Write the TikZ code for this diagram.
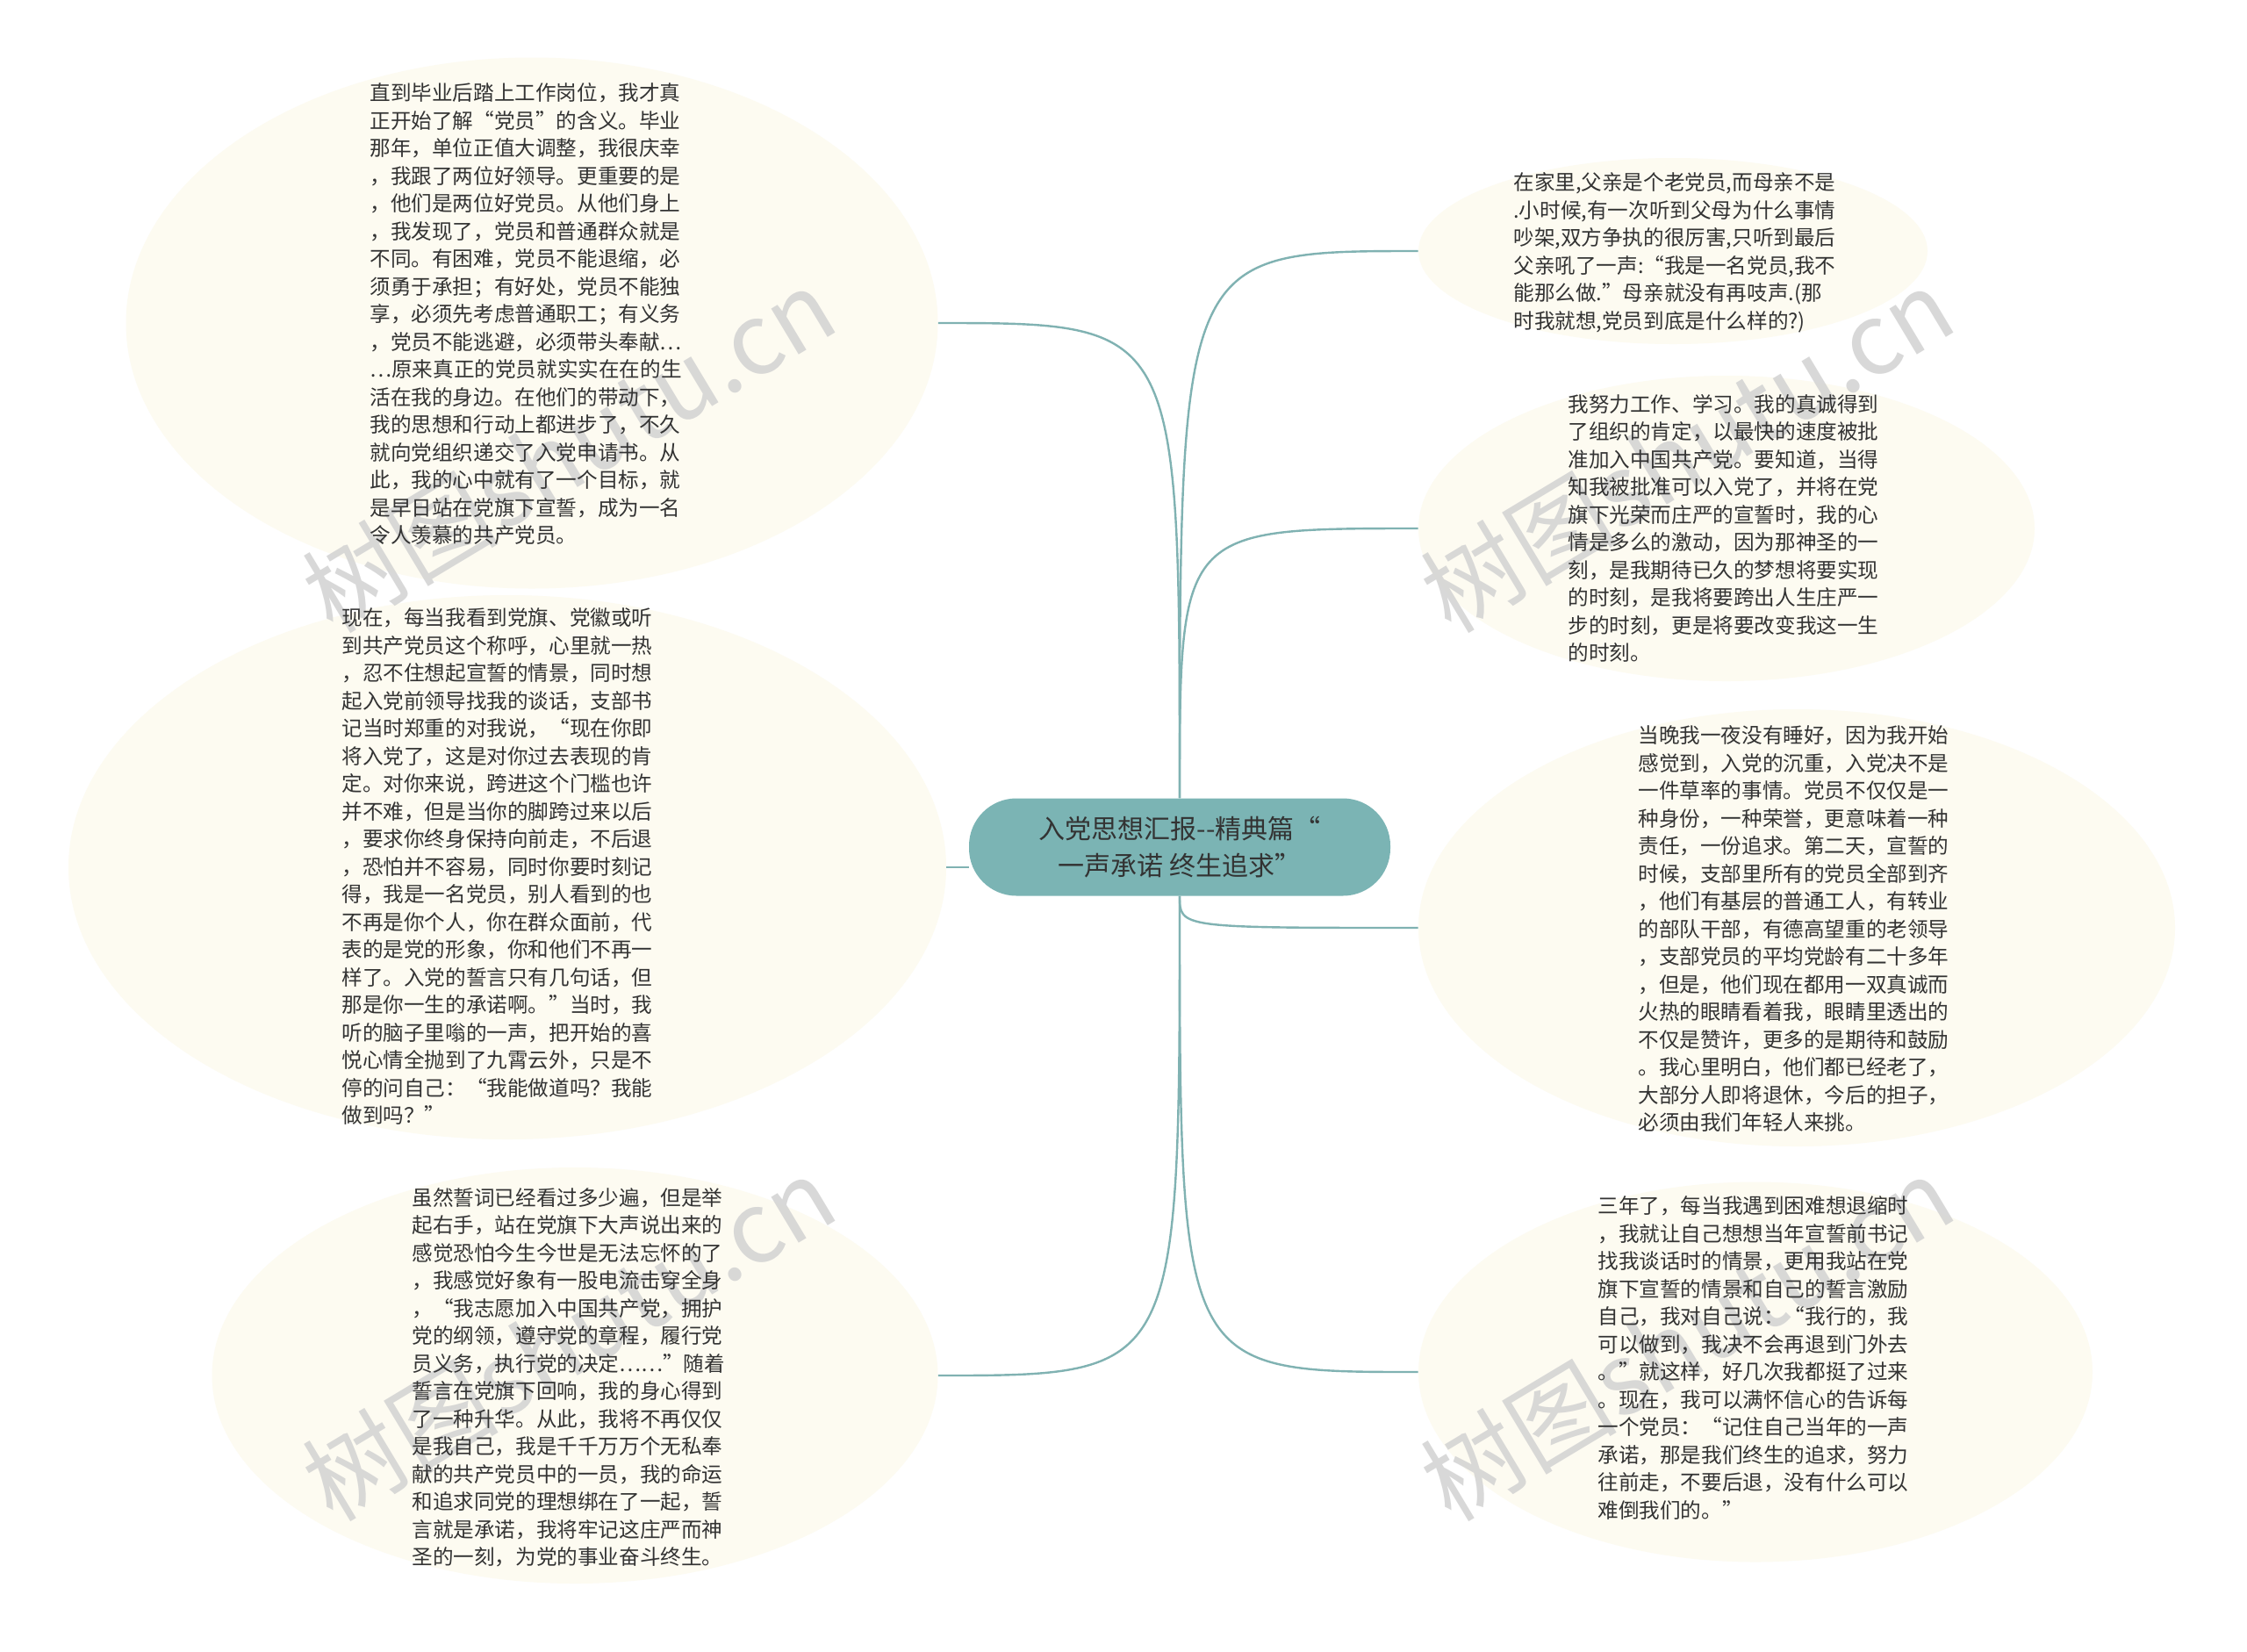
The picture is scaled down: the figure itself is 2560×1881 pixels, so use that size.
\documentclass[tikz,border=0pt]{standalone}
\usepackage{fontspec}
\setmainfont{Noto Sans CJK SC}
\usetikzlibrary{shapes.geometric}
\definecolor{cream}{HTML}{FDFBF1}
\definecolor{linecol}{HTML}{80B2B2}
\definecolor{centerfill}{HTML}{7BB4B4}
\definecolor{textcol}{HTML}{333333}
\definecolor{wmcol}{HTML}{D2D2D2}
\begin{document}
\begin{tikzpicture}[x=0.5pt,y=-0.5pt,
 bub/.style={ellipse, fill=cream, inner sep=0pt},
 body/.style={align=left, anchor=west, inner sep=0pt, text=textcol, font=\fontsize{11.8pt}{15.75pt}\selectfont},
 link/.style={draw=linecol, line width=1.2pt},
 wm/.style={text=wmcol, font=\fontsize{56pt}{60pt}\selectfont, rotate=31, opacity=0.85},
 hub/.style={fill=centerfill, rounded corners=27pt, minimum width=240pt, minimum height=55.5pt, align=center, text=textcol, font=\fontsize{15pt}{21pt}\selectfont}
]
\fill[white] (0,0) rectangle (2560,1881);
\useasboundingbox (0,0) rectangle (2560,1881);

% bubbles
\node[bub, minimum width=462.5pt, minimum height=302.5pt] (e1) at (606,368) {};
\node[bub, minimum width=500pt, minimum height=310pt] (e2) at (578,988) {};
\node[bub, minimum width=413.5pt, minimum height=237pt] (e3) at (655,1567) {};
\node[bub, minimum width=290pt, minimum height=106pt] (e4) at (1906,286) {};
\node[bub, minimum width=351pt, minimum height=174pt] (e5) at (1967,602) {};
\node[bub, minimum width=431pt, minimum height=249pt] (e6) at (2047,1057) {};
\node[bub, minimum width=384pt, minimum height=216.5pt] (e7) at (2000,1563) {};

% watermarks
\node[wm] (w1) at (648,512) {树图shutu.cn};
\node[wm] (w2) at (648,1524) {树图shutu.cn};
\node[wm] (w3) at (1922,512) {树图shutu.cn};
\node[wm] (w4) at (1922,1524) {树图shutu.cn};

% hub
\node[hub] (c) at (1344,965) {入党思想汇报-{}-精典篇“\\一声承诺 终生追求”};

% connectors
\draw[link] (c.north) .. controls (c.north |- e1.east) and (c.north |- e1.east) .. (e1.east);
\draw[link] (e2.east) -- (e2.east -| c.west);
\draw[link] (c.south) .. controls (c.south |- e3.east) and (c.south |- e3.east) .. (e3.east);
\draw[link] (c.north) .. controls (c.north |- e4.west) and (c.north |- e4.west) .. (e4.west);
\draw[link] (c.north) .. controls (c.north |- e5.west) and (c.north |- e5.west) .. (e5.west);
\draw[link] (c.south) .. controls (c.south |- e6.west) and (c.south |- e6.west) .. (e6.west);
\draw[link] (c.south) .. controls (c.south |- e7.west) and (c.south |- e7.west) .. (e7.west);

% texts
\node[body] (t1) at (421,358) {直到毕业后踏上工作岗位，我才真\\
正开始了解“党员”的含义。毕业\\
那年，单位正值大调整，我很庆幸\\
，我跟了两位好领导。更重要的是\\
，他们是两位好党员。从他们身上\\
，我发现了，党员和普通群众就是\\
不同。有困难，党员不能退缩，必\\
须勇于承担；有好处，党员不能独\\
享，必须先考虑普通职工；有义务\\
，党员不能逃避，必须带头奉献…\\
…原来真正的党员就实实在在的生\\
活在我的身边。在他们的带动下，\\
我的思想和行动上都进步了，不久\\
就向党组织递交了入党申请书。从\\
此，我的心中就有了一个目标，就\\
是早日站在党旗下宣誓，成为一名\\
令人羡慕的共产党员。};

\node[body] (t2) at (389,987) {现在，每当我看到党旗、党徽或听\\
到共产党员这个称呼，心里就一热\\
，忍不住想起宣誓的情景，同时想\\
起入党前领导找我的谈话，支部书\\
记当时郑重的对我说，“现在你即\\
将入党了，这是对你过去表现的肯\\
定。对你来说，跨进这个门槛也许\\
并不难，但是当你的脚跨过来以后\\
，要求你终身保持向前走，不后退\\
，恐怕并不容易，同时你要时刻记\\
得，我是一名党员，别人看到的也\\
不再是你个人，你在群众面前，代\\
表的是党的形象，你和他们不再一\\
样了。入党的誓言只有几句话，但\\
那是你一生的承诺啊。”当时，我\\
听的脑子里嗡的一声，把开始的喜\\
悦心情全抛到了九霄云外，只是不\\
停的问自己：“我能做道吗？我能\\
做到吗？”};

\node[body] (t3) at (469,1569) {虽然誓词已经看过多少遍，但是举\\
起右手，站在党旗下大声说出来的\\
感觉恐怕今生今世是无法忘怀的了\\
，我感觉好象有一股电流击穿全身\\
，“我志愿加入中国共产党，拥护\\
党的纲领，遵守党的章程，履行党\\
员义务，执行党的决定……”随着\\
誓言在党旗下回响，我的身心得到\\
了一种升华。从此，我将不再仅仅\\
是我自己，我是千千万万个无私奉\\
献的共产党员中的一员，我的命运\\
和追求同党的理想绑在了一起，誓\\
言就是承诺，我将牢记这庄严而神\\
圣的一刻，为党的事业奋斗终生。};

\node[body] (t4) at (1724,288) {在家里,父亲是个老党员,而母亲不是\\
.小时候,有一次听到父母为什么事情\\
吵架,双方争执的很厉害,只听到最后\\
父亲吼了一声:“我是一名党员,我不\\
能那么做.”母亲就没有再吱声.(那\\
时我就想,党员到底是什么样的?)};

\node[body] (t5) at (1786,602) {我努力工作、学习。我的真诚得到\\
了组织的肯定，以最快的速度被批\\
准加入中国共产党。要知道，当得\\
知我被批准可以入党了，并将在党\\
旗下光荣而庄严的宣誓时，我的心\\
情是多么的激动，因为那神圣的一\\
刻，是我期待已久的梦想将要实现\\
的时刻，是我将要跨出人生庄严一\\
步的时刻，更是将要改变我这一生\\
的时刻。};

\node[body] (t6) at (1866,1058) {当晚我一夜没有睡好，因为我开始\\
感觉到，入党的沉重，入党决不是\\
一件草率的事情。党员不仅仅是一\\
种身份，一种荣誉，更意味着一种\\
责任，一份追求。第二天，宣誓的\\
时候，支部里所有的党员全部到齐\\
，他们有基层的普通工人，有转业\\
的部队干部，有德高望重的老领导\\
，支部党员的平均党龄有二十多年\\
，但是，他们现在都用一双真诚而\\
火热的眼睛看着我，眼睛里透出的\\
不仅是赞许，更多的是期待和鼓励\\
。我心里明白，他们都已经老了，\\
大部分人即将退休，今后的担子，\\
必须由我们年轻人来挑。};

\node[body] (t7) at (1820,1547) {三年了，每当我遇到困难想退缩时\\
，我就让自己想想当年宣誓前书记\\
找我谈话时的情景，更用我站在党\\
旗下宣誓的情景和自己的誓言激励\\
自己，我对自己说：“我行的，我\\
可以做到，我决不会再退到门外去\\
。”就这样，好几次我都挺了过来\\
。现在，我可以满怀信心的告诉每\\
一个党员：“记住自己当年的一声\\
承诺，那是我们终生的追求，努力\\
往前走，不要后退，没有什么可以\\
难倒我们的。”};
\end{tikzpicture}
\end{document}
